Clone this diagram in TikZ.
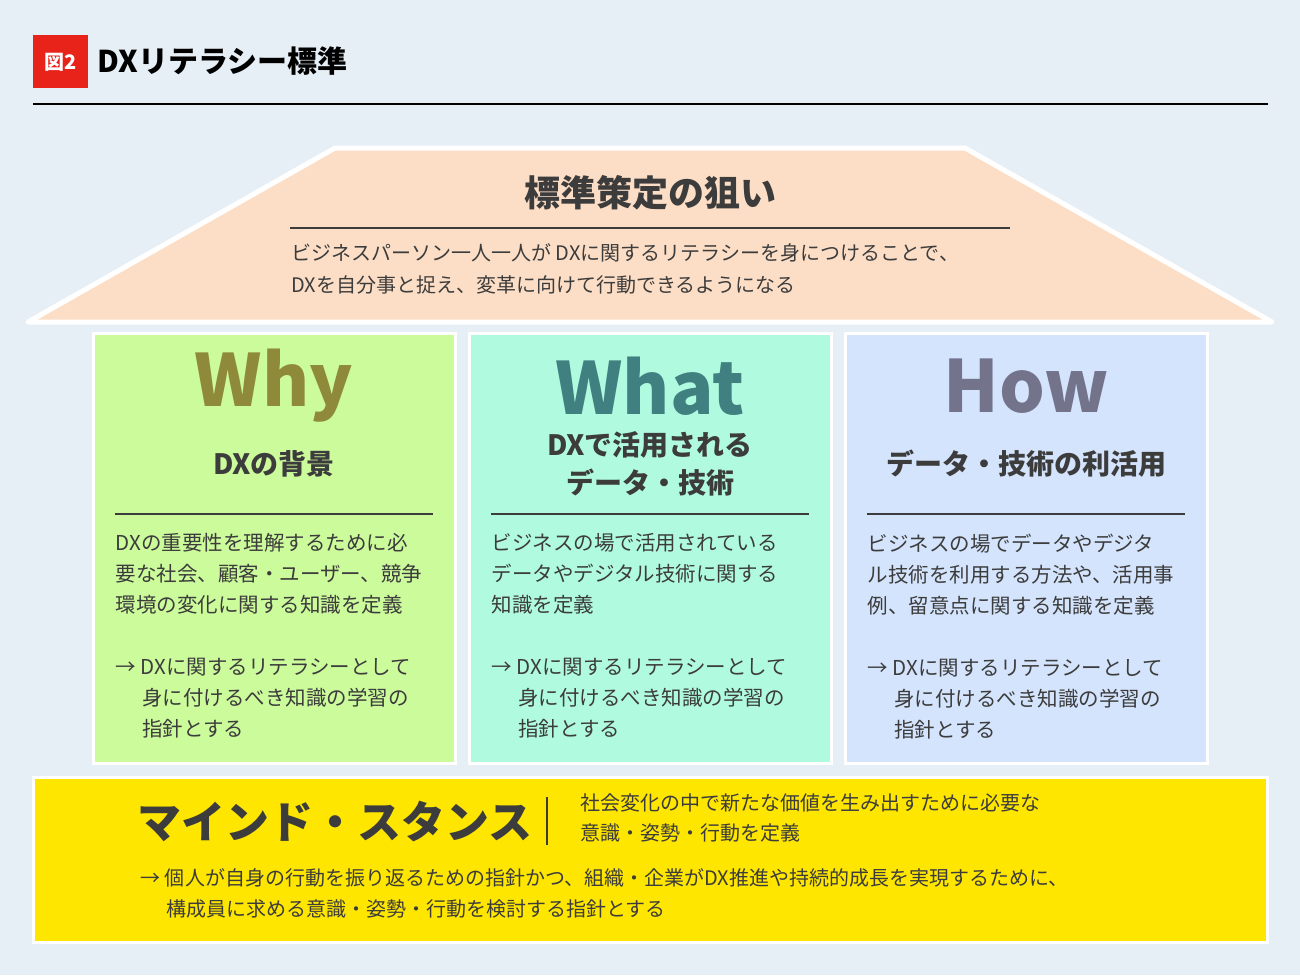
\documentclass[tikz,border=0pt]{standalone}
\usepackage{fontspec}
\setmainfont{Noto Sans CJK JP}
\definecolor{bg}{HTML}{E6EEF6}
\definecolor{roof}{HTML}{FCDEC6}
\definecolor{why}{HTML}{CCFB9C}
\definecolor{what}{HTML}{B0FBE0}
\definecolor{how}{HTML}{D4E4FC}
\definecolor{mind}{HTML}{FFE600}
\definecolor{txt}{HTML}{3C3C3C}
\definecolor{redbox}{HTML}{E8231A}
\tikzset{
 panel/.style={draw=white,line width=3pt},
 big/.style={font=\fontsize{72}{72}\selectfont\bfseries,anchor=center},
 sub/.style={font=\fontsize{28}{38}\selectfont\bfseries,text=txt,align=center},
 body/.style={font=\fontsize{20.5}{31}\selectfont,text=txt,align=left,anchor=north west},
}
\begin{document}
\begin{tikzpicture}[x=1pt,y=-1pt]
\fill[bg] (0,0) rectangle (1300,975);
\useasboundingbox (0,0) rectangle (1300,975);
\fill[redbox] (33,35) rectangle (88,88);
\node[text=white,font=\fontsize{20}{20}\selectfont\bfseries] (fig) at (60.5,62) {図2};
\node[anchor=west,font=\fontsize{30}{30}\selectfont\bfseries,text=black] (title) at (94,61) {DXリテラシー標準};
\draw[line width=2pt] (33,104) -- (1268,104);
% roof
\draw[panel,fill=roof,line width=5pt,line join=round] (335,148) -- (965,148) -- (1272,322) -- (28,322) -- cycle;
\node[font=\fontsize{36}{36}\selectfont\bfseries,text=txt] (goal) at (650,193) {標準策定の狙い};
\draw[txt,line width=1.5pt] (290,228) -- (1010,228);
\node[body,font=\fontsize{20}{32}\selectfont] (goaltxt) at (288,240) {ビジネスパーソン一人一人が DXに関するリテラシーを身につけることで、\\DXを自分事と捉え、変革に向けて行動できるようになる};
% columns
\draw[panel,fill=why] (93,333) rectangle (455,763);
\draw[panel,fill=what] (469,333) rectangle (831,763);
\draw[panel,fill=how] (845,333) rectangle (1207,763);
\node[big,text=olive!60!gray] (w1) at (274,386) {Why};
\node[big,text=teal!50!gray] (w2) at (650,386) {What};
\node[big,text=gray!90!blue] (w3) at (1026,386) {How};
\node[sub] (s1) at (274,464) {DXの背景};
\node[sub] (s2) at (650,464) {DXで活用される\\データ・技術};
\node[sub] (s3) at (1026,464) {データ・技術の利活用};
\foreach \x in {115,491,867} \draw[txt,line width=1.5pt] (\x,514) -- (\x+318,514);
\node[body] (b1) at (112,530) {DXの重要性を理解するために必\\要な社会、顧客・ユーザー、競争\\環境の変化に関する知識を定義\\[31pt]→ DXに関するリテラシーとして\\\hspace*{1.3em}身に付けるべき知識の学習の\\\hspace*{1.3em}指針とする};
\node[body] (b2) at (488,530) {ビジネスの場で活用されている\\データやデジタル技術に関する\\知識を定義\\[31pt]→ DXに関するリテラシーとして\\\hspace*{1.3em}身に付けるべき知識の学習の\\\hspace*{1.3em}指針とする};
\node[body] (b3) at (864,530) {ビジネスの場でデータやデジタ\\ル技術を利用する方法や、活用事\\例、留意点に関する知識を定義\\[31pt]→ DXに関するリテラシーとして\\\hspace*{1.3em}身に付けるべき知識の学習の\\\hspace*{1.3em}指針とする};
% base
\draw[panel,fill=mind] (33,777) rectangle (1267,942);
\node[anchor=west,font=\fontsize{44}{44}\selectfont\bfseries,text=txt] (ms) at (134,822) {マインド・スタンス};
\draw[txt,line width=1.5pt] (547,797) -- (547,845);
\node[body,font=\fontsize{20}{30}\selectfont] (mt) at (577,790) {社会変化の中で新たな価値を生み出すために必要な\\意識・姿勢・行動を定義};
\node[body,font=\fontsize{20}{31}\selectfont] (ma) at (137,865) {→ 個人が自身の行動を振り返るための指針かつ、組織・企業がDX推進や持続的成長を実現するために、\\\hspace*{1.3em}構成員に求める意識・姿勢・行動を検討する指針とする};
\end{tikzpicture}
\end{document}
